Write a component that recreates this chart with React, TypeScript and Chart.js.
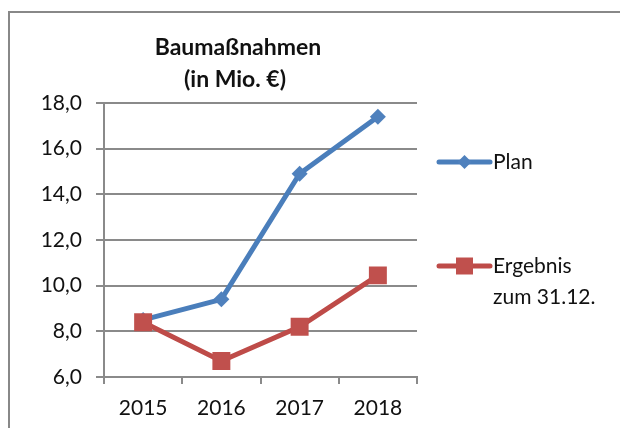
import React, { useEffect, useRef } from "react";
import { Chart, registerables } from "chart.js";

Chart.register(...registerables);

const categories = ["2015", "2016", "2017", "2018"];
const planValues = [8.5, 9.4, 14.9, 17.4];
const ergebnisValues = [8.4, 6.7, 8.2, 10.45];
const seriesLabels = [["Plan"], ["Ergebnis", "zum 31.12."]];
const titleLines = ["Baumaßnahmen", "(in Mio. €)"];
const yMin = 6;
const yMax = 18;
const yStep = 2;

const FONT = "Lato, 'Open Sans', sans-serif";
const BLUE = "#4A7EBB";
const BLUE_FILL = "#4F81BD";
const RED = "#BE4B48";
const RED_FILL = "#C0504D";
const GRID = "#8A8A8A";
const TEXT = "#111111";

const framePlugin = {
  id: "frame",
  beforeDraw(chart: any) {
    const ctx = chart.ctx;
    ctx.save();
    ctx.fillStyle = "#ffffff";
    ctx.fillRect(0, 0, chart.width, chart.height);
    ctx.fillStyle = "#888888";
    ctx.fillRect(8, 11, chart.width - 8, 2);
    ctx.fillRect(8, 11, 2, chart.height - 11);
    ctx.restore();
  },
};

const titlePlugin = {
  id: "customTitle",
  afterDraw(chart: any) {
    const ctx = chart.ctx;
    ctx.save();
    ctx.fillStyle = TEXT;
    ctx.font = `bold 23px ${FONT}`;
    ctx.textAlign = "center";
    ctx.textBaseline = "middle";
    ctx.fillText(titleLines[0], 238, 48);
    ctx.fillText(titleLines[1], 235, 80);
    ctx.restore();
  },
};

const legendPlugin = {
  id: "customLegend",
  afterDraw(chart: any) {
    const ctx = chart.ctx;
    const rows = [162, 266];
    ctx.save();
    chart.data.datasets.forEach((ds: any, i: number) => {
      const y = rows[i];
      const x0 = 439;
      const x1 = 490;
      const cx = (x0 + x1) / 2;
      ctx.strokeStyle = ds.borderColor;
      ctx.lineWidth = 5;
      ctx.lineCap = "round";
      ctx.beginPath();
      ctx.moveTo(x0, y);
      ctx.lineTo(x1, y);
      ctx.stroke();
      ctx.fillStyle = ds.pointBackgroundColor;
      ctx.beginPath();
      if (ds.pointStyle === "rectRot") {
        const r = 7;
        ctx.moveTo(cx, y - r);
        ctx.lineTo(cx + r, y);
        ctx.lineTo(cx, y + r);
        ctx.lineTo(cx - r, y);
        ctx.closePath();
      } else {
        const s = 8.5;
        ctx.rect(cx - s, y - s, 2 * s, 2 * s);
      }
      ctx.fill();
      ctx.fillStyle = TEXT;
      ctx.font = `21px ${FONT}`;
      ctx.textAlign = "left";
      ctx.textBaseline = "middle";
      const lines = seriesLabels[i];
      lines.forEach((ln, k) => {
        ctx.fillText(ln, 493, y + k * 31);
      });
    });
    ctx.restore();
  },
};

export default function App() {
  const ref = useRef<HTMLCanvasElement | null>(null);

  useEffect(() => {
    if (!ref.current) return;
    const chart = new Chart(ref.current, {
      type: "line",
      data: {
        labels: categories,
        datasets: [
          {
            label: seriesLabels[0].join(" "),
            data: planValues,
            order: 1,
            borderColor: BLUE,
            backgroundColor: BLUE_FILL,
            pointBackgroundColor: BLUE_FILL,
            pointBorderColor: BLUE_FILL,
            pointStyle: "rectRot",
            pointRadius: 8,
            pointBorderWidth: 0,
            borderWidth: 5,
            tension: 0,
          },
          {
            label: seriesLabels[1].join(" "),
            data: ergebnisValues,
            order: 0,
            borderColor: RED,
            backgroundColor: RED_FILL,
            pointBackgroundColor: RED_FILL,
            pointBorderColor: RED_FILL,
            pointStyle: "rect",
            pointRadius: 12.7,
            pointBorderWidth: 0,
            borderWidth: 5,
            tension: 0,
          },
        ],
      },
      options: {
        responsive: false,
        animation: false,
        layout: { padding: { left: 0, top: 103, right: 203, bottom: 5 } },
        plugins: {
          legend: { display: false },
          title: { display: false },
          tooltip: { enabled: false },
        },
        scales: {
          x: {
            offset: true,
            grid: {
              display: true,
              drawOnChartArea: false,
              drawTicks: true,
              tickLength: 7,
              color: GRID,
              lineWidth: 2,
              offset: true,
            },
            border: { display: true, color: GRID, width: 2 },
            ticks: {
              color: TEXT,
              font: { family: FONT, size: 21 },
              padding: 12,
              maxRotation: 0,
            },
            afterFit(scale: any) {
              scale.height = 46;
            },
          },
          y: {
            min: yMin,
            max: yMax,
            grid: {
              color: GRID,
              lineWidth: 2,
              tickLength: 8,
              drawTicks: true,
            },
            border: { display: true, color: GRID, width: 2 },
            ticks: {
              stepSize: yStep,
              color: TEXT,
              font: { family: FONT, size: 21 },
              padding: 14,
              callback: (v: any) => Number(v).toFixed(1).replace(".", ","),
            },
            afterFit(scale: any) {
              scale.width = 104;
            },
          },
        },
      },
      plugins: [framePlugin, titlePlugin, legendPlugin],
    });
    return () => chart.destroy();
  }, []);

  return (
    <div style={{ position: "fixed", left: 0, top: 0, width: 620, height: 428 }}>
      <canvas ref={ref} width={620} height={428} style={{ display: "block" }} />
    </div>
  );
}
